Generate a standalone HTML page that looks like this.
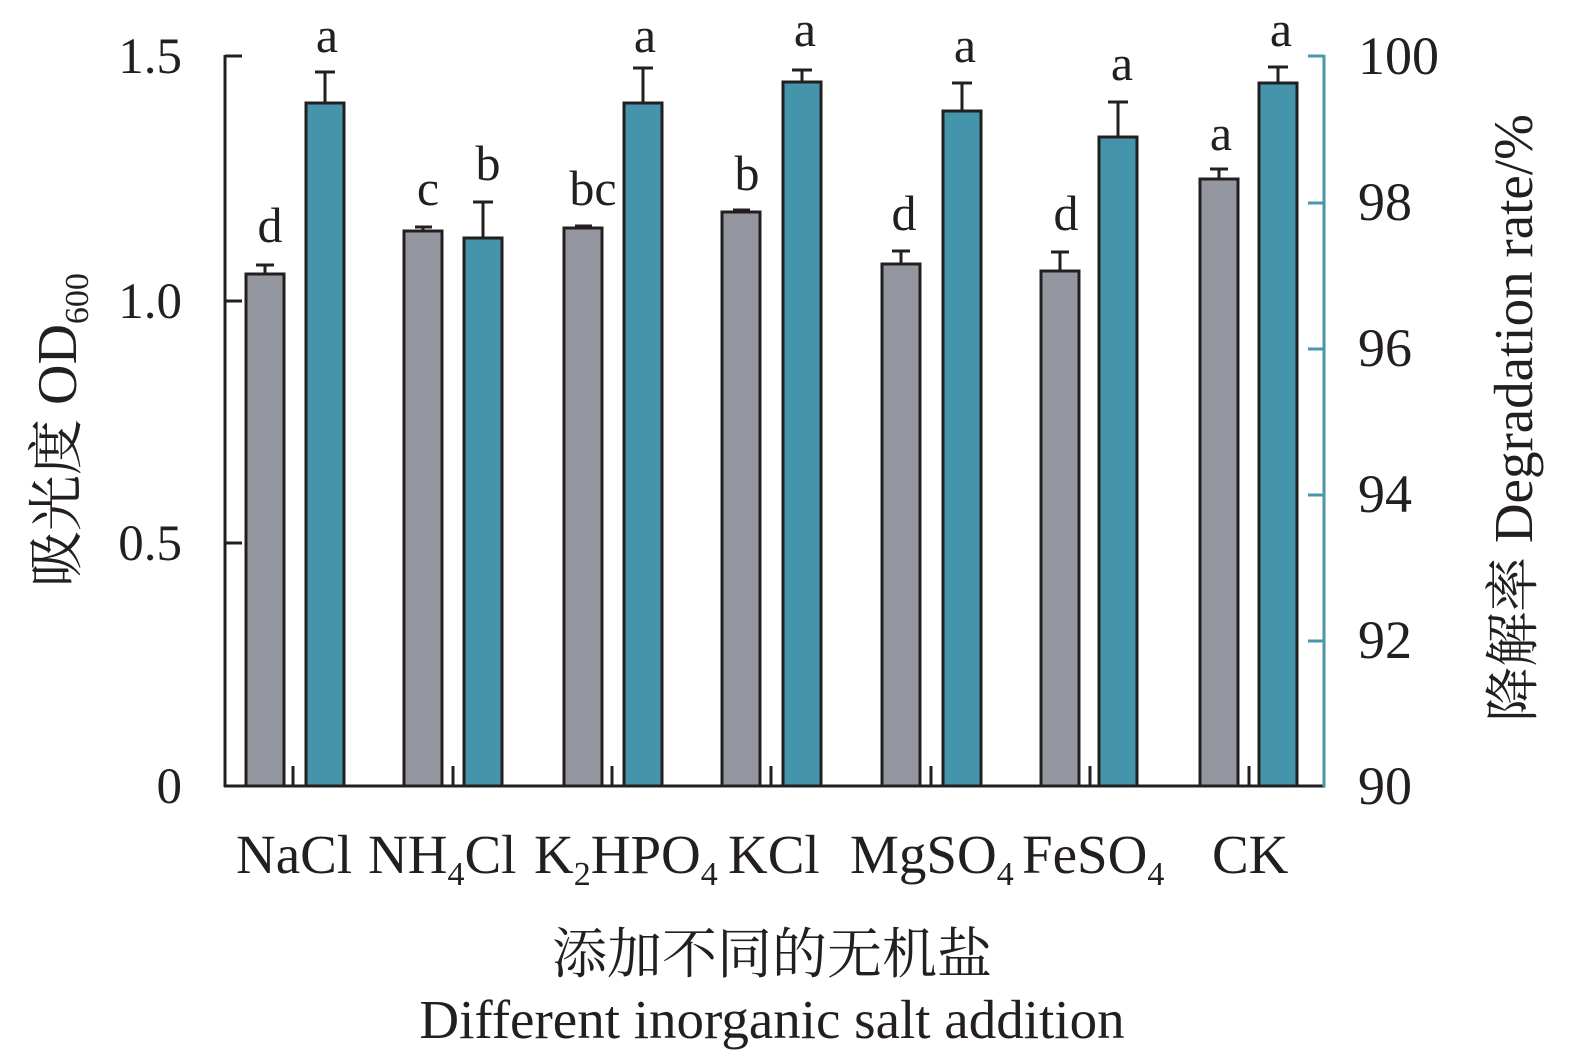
<!DOCTYPE html>
<html><head><meta charset="utf-8"><style>body{margin:0;background:#fff}svg{display:block}</style></head><body>
<svg width="1575" height="1064" xmlns="http://www.w3.org/2000/svg" font-family="'Liberation Serif','Noto Serif CJK SC',serif" fill="#231f20">
<g stroke="#231f20" stroke-width="3">
<line x1="225" y1="55" x2="225" y2="787"/>
<line x1="224" y1="786" x2="1325" y2="786"/>
<line x1="225" y1="56" x2="242" y2="56"/>
<line x1="225" y1="301" x2="242" y2="301"/>
<line x1="225" y1="543" x2="242" y2="543"/>
</g>
<g stroke="#4a97a9" stroke-width="3">
<line x1="1324" y1="55" x2="1324" y2="787"/>
<line x1="1308" y1="56" x2="1324" y2="56"/>
<line x1="1308" y1="203" x2="1324" y2="203"/>
<line x1="1308" y1="349" x2="1324" y2="349"/>
<line x1="1308" y1="495" x2="1324" y2="495"/>
<line x1="1308" y1="641" x2="1324" y2="641"/>
</g>
<g font-size="51" text-anchor="end">
<text x="182" y="73">1.5</text><text x="182" y="318">1.0</text><text x="182" y="560">0.5</text><text x="182" y="803">0</text>
</g>
<g font-size="54">
<text x="1358" y="74">100</text><text x="1358" y="220">98</text><text x="1358" y="366">96</text><text x="1358" y="512">94</text><text x="1358" y="658">92</text><text x="1358" y="804">90</text>
</g>
<g stroke="#231f20" stroke-width="3">
<rect x="246" y="274" width="38" height="512" fill="#94979f"/>
<rect x="404" y="231" width="38" height="555" fill="#94979f"/>
<rect x="564" y="228" width="38" height="558" fill="#94979f"/>
<rect x="722" y="212" width="38" height="574" fill="#94979f"/>
<rect x="882" y="264" width="38" height="522" fill="#94979f"/>
<rect x="1041" y="271" width="38" height="515" fill="#94979f"/>
<rect x="1200" y="179" width="38" height="607" fill="#94979f"/>
<rect x="306" y="103" width="38" height="683" fill="#4495ab"/>
<rect x="464" y="238" width="38" height="548" fill="#4495ab"/>
<rect x="624" y="103" width="38" height="683" fill="#4495ab"/>
<rect x="783" y="82" width="38" height="704" fill="#4495ab"/>
<rect x="943" y="111" width="38" height="675" fill="#4495ab"/>
<rect x="1099" y="137" width="38" height="649" fill="#4495ab"/>
<rect x="1259" y="83" width="38" height="703" fill="#4495ab"/>
<path fill="none" d="M265 274V265M256 265H274 M423 231V227M415 227H432 M583 228V226M575 226H592 M741 212V210M733 210H750 M901 264V251M892 251H910 M1060 271V252M1051 252H1069 M1219 179V169M1210 169H1228
M325 103V72M315 72H335 M483 238V202M473 202H493 M643 103V68M633 68H653 M802 82V70M792 70H812 M962 111V83M952 83H972 M1118 137V102M1108 102H1128 M1278 83V67M1268 67H1288
M293 786V766 M453 786V766 M612 786V766 M771 786V766 M931 786V766 M1090 786V766 M1249 786V766"/>
</g>
<g font-size="50" text-anchor="middle">
<text x="270" y="242">d</text><text x="327" y="52">a</text>
<text x="428" y="205">c</text><text x="488" y="180">b</text>
<text x="593" y="205">bc</text><text x="645" y="52">a</text>
<text x="747" y="190">b</text><text x="805" y="46">a</text>
<text x="904" y="230">d</text><text x="965" y="62">a</text>
<text x="1066" y="230">d</text><text x="1122" y="80">a</text>
<text x="1221" y="150">a</text><text x="1281" y="46">a</text>
</g>
<g font-size="55">
<text x="236" y="873">NaCl</text>
<text x="368" y="873">NH<tspan font-size="34" dy="12">4</tspan><tspan dy="-12">Cl</tspan></text>
<text x="534" y="873">K<tspan font-size="34" dy="12">2</tspan><tspan dy="-12">HPO</tspan><tspan font-size="34" dy="12">4</tspan></text>
<text x="728" y="873">KCl</text>
<text x="850" y="873">MgSO<tspan font-size="34" dy="12">4</tspan></text>
<text x="1022" y="873">FeSO<tspan font-size="34" dy="12">4</tspan></text>
<text x="1212" y="873">CK</text>
</g>
<text x="772" y="973" font-size="55" text-anchor="middle">添加不同的无机盐</text>
<text x="772" y="1038" font-size="55" text-anchor="middle">Different inorganic salt addition</text>
<text transform="translate(76,430) rotate(-90)" font-size="56" text-anchor="middle">吸光度 OD<tspan font-size="34" dy="12">600</tspan></text>
<text transform="translate(1532,418) rotate(-90)" font-size="55" text-anchor="middle">降解率 Degradation rate/%</text>
</svg>
</body></html>
